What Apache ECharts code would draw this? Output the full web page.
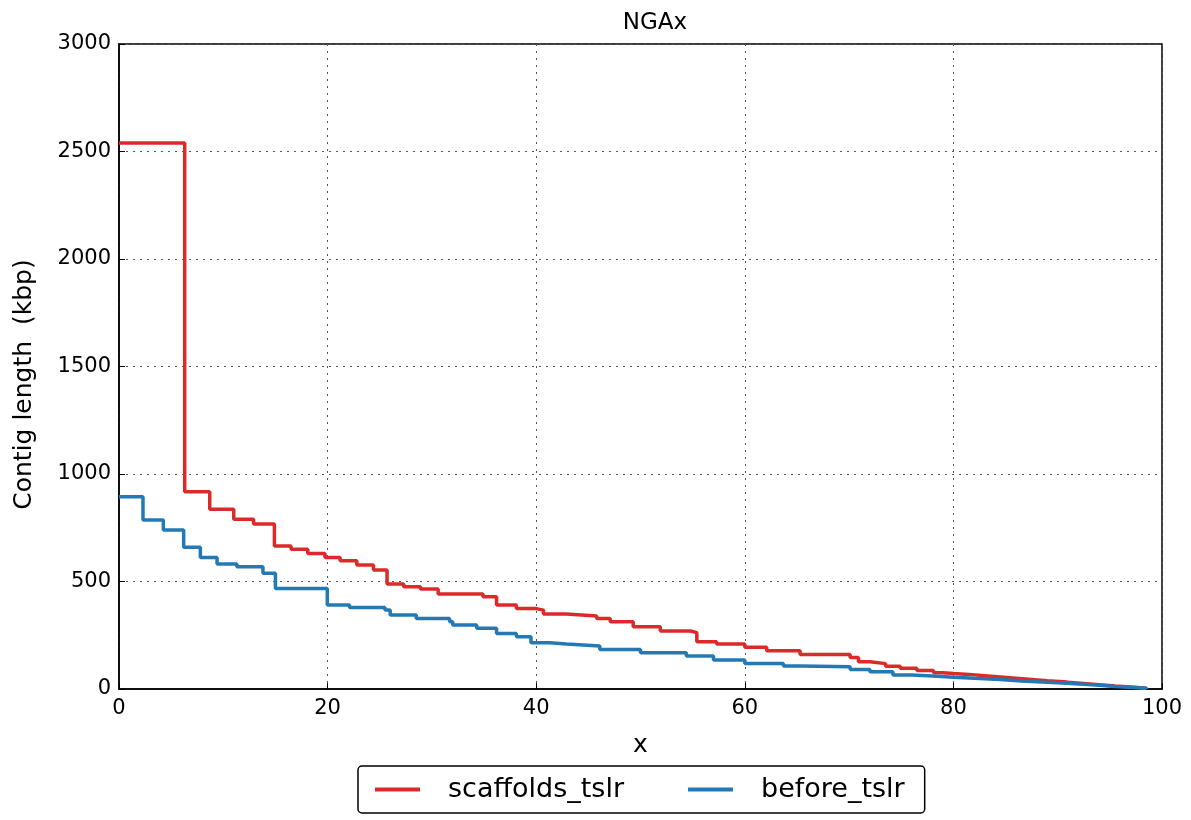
<!DOCTYPE html>
<html lang="en">
<head>
    <meta charset="UTF-8">
    <title>NGAx</title>
    <script src="https://cdn.jsdelivr.net/npm/echarts@6/dist/echarts.min.js"></script>
</head>
<body style="margin:0;background:#fff;">
    <div id="main" style="width:1191px;height:820px;"></div>
    <script type="text/javascript">
        // step starts (x, %) and contig lengths (kbp)
        var scaffoldsX = [0, 6.3, 8.7, 11.0, 12.9, 14.9, 16.5, 18.1, 19.75, 21.2, 22.8, 24.4, 25.7, 27.3, 28.9, 30.6, 34.9, 36.2, 38.1, 40.0, 40.7, 42.9, 45.8, 47.1, 49.3, 51.9, 54.8, 55.4, 57.3, 60.0, 62.1, 65.3, 70.1, 70.9, 72.0, 73.5, 74.9, 76.5, 78.1, 79.0, 80.0, 81.5, 83.0, 84.5, 86.0, 87.5, 89.0, 90.9, 92.5, 94.0, 95.5, 97.0, 98.5];
        var scaffoldsY = [2540, 917, 836, 790, 767, 665, 650, 630, 612, 597, 577, 553, 488, 476, 465, 442, 429, 391, 374, 367, 349, 340, 328, 313, 290, 270, 262, 220, 209, 194, 178, 160, 147, 127, 118, 106, 96, 86, 76, 72, 68, 62, 56, 50, 44, 38, 32, 26, 20, 14, 9, 4, 0];

        var beforeX = [0, 2.3, 4.25, 6.2, 7.8, 9.4, 11.3, 13.8, 15.0, 19.97, 22.1, 25.5, 26.0, 28.5, 31.7, 32.0, 34.3, 36.2, 38.1, 39.5, 41.3, 42.9, 46.1, 50.0, 54.4, 57.0, 60.0, 63.7, 65.3, 70.1, 72.0, 74.2, 76.0, 78.0, 80.0, 82.0, 84.5, 86.5, 88.5, 90.9, 92.5, 94.0, 95.5, 97.0, 98.5];
        var beforeY = [894, 786, 740, 659, 612, 581, 569, 538, 467, 391, 379, 367, 344, 328, 313, 298, 282, 258, 243, 215, 209, 200, 184, 169, 153, 135, 119, 107, 104, 91, 80, 65, 60, 55, 50, 44, 37, 32, 27, 22, 17, 12, 8, 4, 0];

        var xTicks = [0, 20, 40, 60, 80, 100];
        var yTicks = [0, 500, 1000, 1500, 2000, 2500, 3000];

        function pairs(xs, ys) {
            return xs.map(function (x, i) { return [x, ys[i]]; });
        }

        var font = 'DejaVu Sans';
        var myChart = echarts.init(document.getElementById('main'));

        var option = {
            backgroundColor: '#fff',
            animation: false,
            textStyle: { fontFamily: font },
            title: {
                text: 'NGAx',
                left: 650,
                textAlign: 'center',
                top: 7,
                textStyle: { fontFamily: font, fontSize: 23, fontWeight: 'normal', color: '#000' }
            },
            legend: {
                data: ['scaffolds_tslr', 'before_tslr'],
                left: 358,
                top: 766,
                icon: 'rect',
                itemWidth: 45,
                itemHeight: 4,
                itemGap: 64,
                padding: [10, 20, 10, 17],
                borderColor: '#000',
                borderWidth: 1.5,
                borderRadius: 4,
                textStyle: { fontFamily: font, fontSize: 27, color: '#000', padding: [0, 0, 0, 23] }
            },
            grid: {
                left: 119,
                right: 29,
                top: 44,
                bottom: 131,
                show: true,
                borderColor: '#000',
                borderWidth: 1.5
            },
            xAxis: {
                type: 'value',
                min: 0,
                max: 100,
                interval: 20,
                name: 'x',
                nameLocation: 'middle',
                nameGap: 44,
                nameTextStyle: { fontFamily: font, fontSize: 25, color: '#000' },
                axisLine: { show: true, lineStyle: { color: '#000', width: 1.5 } },
                axisTick: { show: true, inside: true, length: 6, lineStyle: { color: '#000' } },
                axisLabel: {
                    color: '#000', fontSize: 21, fontFamily: font, margin: 9,
                    formatter: function (v) { return xTicks.indexOf(v) >= 0 ? String(v) : ''; }
                },
                splitLine: { show: true, lineStyle: { color: '#555', type: [2, 5], width: 1 } }
            },
            yAxis: {
                type: 'value',
                min: 0,
                max: 3000,
                interval: 500,
                name: 'Contig length  (kbp)',
                nameLocation: 'middle',
                nameGap: 82,
                nameTextStyle: { fontFamily: font, fontSize: 25, color: '#000', padding: [0, 36, 0, 0] },
                axisLine: { show: true, lineStyle: { color: '#000', width: 1.5 } },
                axisTick: { show: true, inside: true, length: 6, lineStyle: { color: '#000' } },
                axisLabel: {
                    color: '#000', fontSize: 21, fontFamily: font, margin: 8,
                    formatter: function (v) { return yTicks.indexOf(v) >= 0 ? String(v) : ''; }
                },
                splitLine: { show: true, lineStyle: { color: '#555', type: [2, 5], width: 1 } }
            },
            series: [
                {
                    name: 'scaffolds_tslr',
                    type: 'line',
                    step: 'end',
                    symbol: 'none',
                    color: '#dc2a2a',
                    lineStyle: { width: 3.5, color: '#dc2a2a' },
                    data: pairs(scaffoldsX, scaffoldsY)
                },
                {
                    name: 'before_tslr',
                    type: 'line',
                    step: 'end',
                    symbol: 'none',
                    color: '#2379b5',
                    lineStyle: { width: 3.5, color: '#2379b5' },
                    data: pairs(beforeX, beforeY)
                }
            ]
        };

        myChart.setOption(option);
    </script>
</body>
</html>
